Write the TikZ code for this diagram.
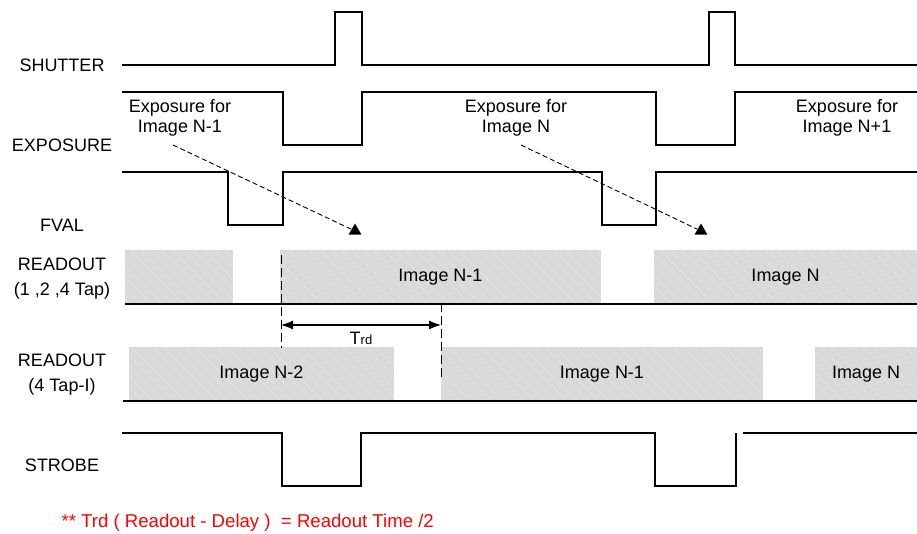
\documentclass[tikz,border=0pt]{standalone}
\usepackage{fontspec}
\setmainfont{Liberation Sans}
\usetikzlibrary{arrows.meta,%
	patterns.meta,%
	shapes.geometric}
\definecolor{boxgray}{RGB}{217,217,217}
\definecolor{hatchgray}{RGB}{229,229,229}
\definecolor{notered}{RGB}{255,0,0}
\tikzset{
	sig/.style={line width=1.2pt},
	siglabel/.style={align=center,font=\fontsize{18}{25}\selectfont},
	explabel/.style={align=center,font=\fontsize{18}{20}\selectfont},
	readbox/.style={preaction={fill=boxgray},pattern={Lines[angle=-45,distance=7.5pt,line width=0.7pt]},pattern color=hatchgray,inner sep=0pt,minimum height=54pt,font=\fontsize{18}{20}\selectfont},
	tipmark/.style={regular polygon,regular polygon sides=3,fill=black,inner sep=0pt,minimum size=15pt},
	guide/.style={line width=0.9pt,dash pattern=on 5pt off 3pt},
	marker/.style={line width=1pt,dash pattern=on 9pt off 4pt}
}

\begin{document}
\begin{tikzpicture}[x=1pt,y=-1pt]
			\useasboundingbox (0,0) rectangle (917,534);
			\node[siglabel] (shutter) at (62,65) {SHUTTER};
			\node[siglabel] (exposure) at (62,145) {EXPOSURE};
			\node[siglabel] (fval) at (62,225) {FVAL};
			\node[siglabel] (readA) at (62,279) {READOUT\\(1 ,2 ,4 Tap)};
			\node[siglabel] (readB) at (62,375) {READOUT\\(4 Tap-I)};
			\node[siglabel] (strobe) at (62,465) {STROBE};
			\draw[sig] (122,65) -- (335,65) -- (335,12) -- (362,12) -- (362,65) -- (709,65) -- (709,12) -- (735,12) -- (735,65) -- (917,65);
			\draw[sig] (122,92) -- (283,92) -- (283,145) -- (362,145) -- (362,92) -- (656,92) -- (656,145) -- (735,145) -- (735,92) -- (917,92);
			\draw[sig] (122,172) -- (228,172) -- (228,225) -- (283,225) -- (283,172) -- (602,172) -- (602,225) -- (656,225) -- (656,172) -- (917,172);
			\draw[sig] (122,433) -- (282,433) -- (282,486) -- (361,486) -- (361,433) -- (655,433) -- (655,486) -- (736,486) -- (736,433);
			\draw[sig] (743,433) -- (917,433);
			\node[explabel] (expA) at (180,118) {Exposure for\\Image N-1};
			\node[explabel] (expB) at (516,118) {Exposure for\\Image N};
			\node[explabel] (expC) at (847,118) {Exposure for\\Image N+1};
			\coordinate (fromA) at (173,145);
			\coordinate (fromB) at (521,145);
			\node[tipmark] (tipA) at (355,231) {};
			\node[tipmark] (tipB) at (701,231) {};
			\draw[guide] (fromA) -- (tipA);
			\draw[guide] (fromB) -- (tipB);
			\node[readbox,minimum width=108pt] (a1) at (179,277) {};
			\node[readbox,minimum width=321pt] (a2) at (440.5,277) {Image N-1};
			\node[readbox,minimum width=263pt] (a3) at (785.5,277) {Image N};
			\node[readbox,minimum width=265pt] (b1) at (261.5,374) {Image N-2};
			\node[readbox,minimum width=322pt] (b2) at (602,374) {Image N-1};
			\node[readbox,minimum width=102pt] (b3) at (866,374) {Image N};
			\draw[sig] (125,304) -- (917,304);
			\draw[sig] (123,401) -- (917,401);
			\coordinate (m1top) at (281,255);
			\coordinate (m1bot) at (281,348);
			\coordinate (m2top) at (441,303);
			\coordinate (m2bot) at (441,377);
			\draw[marker] (m1top) -- (m1bot);
			\draw[marker] (m2top) -- (m2bot);
			\coordinate (trdL) at (281,325);
			\coordinate (trdR) at (441,325);
			\draw[line width=1.2pt,{Latex[length=12pt,width=9pt]}-{Latex[length=12pt,width=9pt]}] (trdL) -- (trdR);
			\node[font=\fontsize{18}{20}\selectfont] (trd) at (361,338) {T{\fontsize{13}{13}\selectfont rd}};
			\node[anchor=west,text=notered,font=\fontsize{18.6}{20}\selectfont] (note) at (58,523) {** Trd ( Readout - Delay )~ = Readout Time /2};
			\end{tikzpicture}
\end{document}
